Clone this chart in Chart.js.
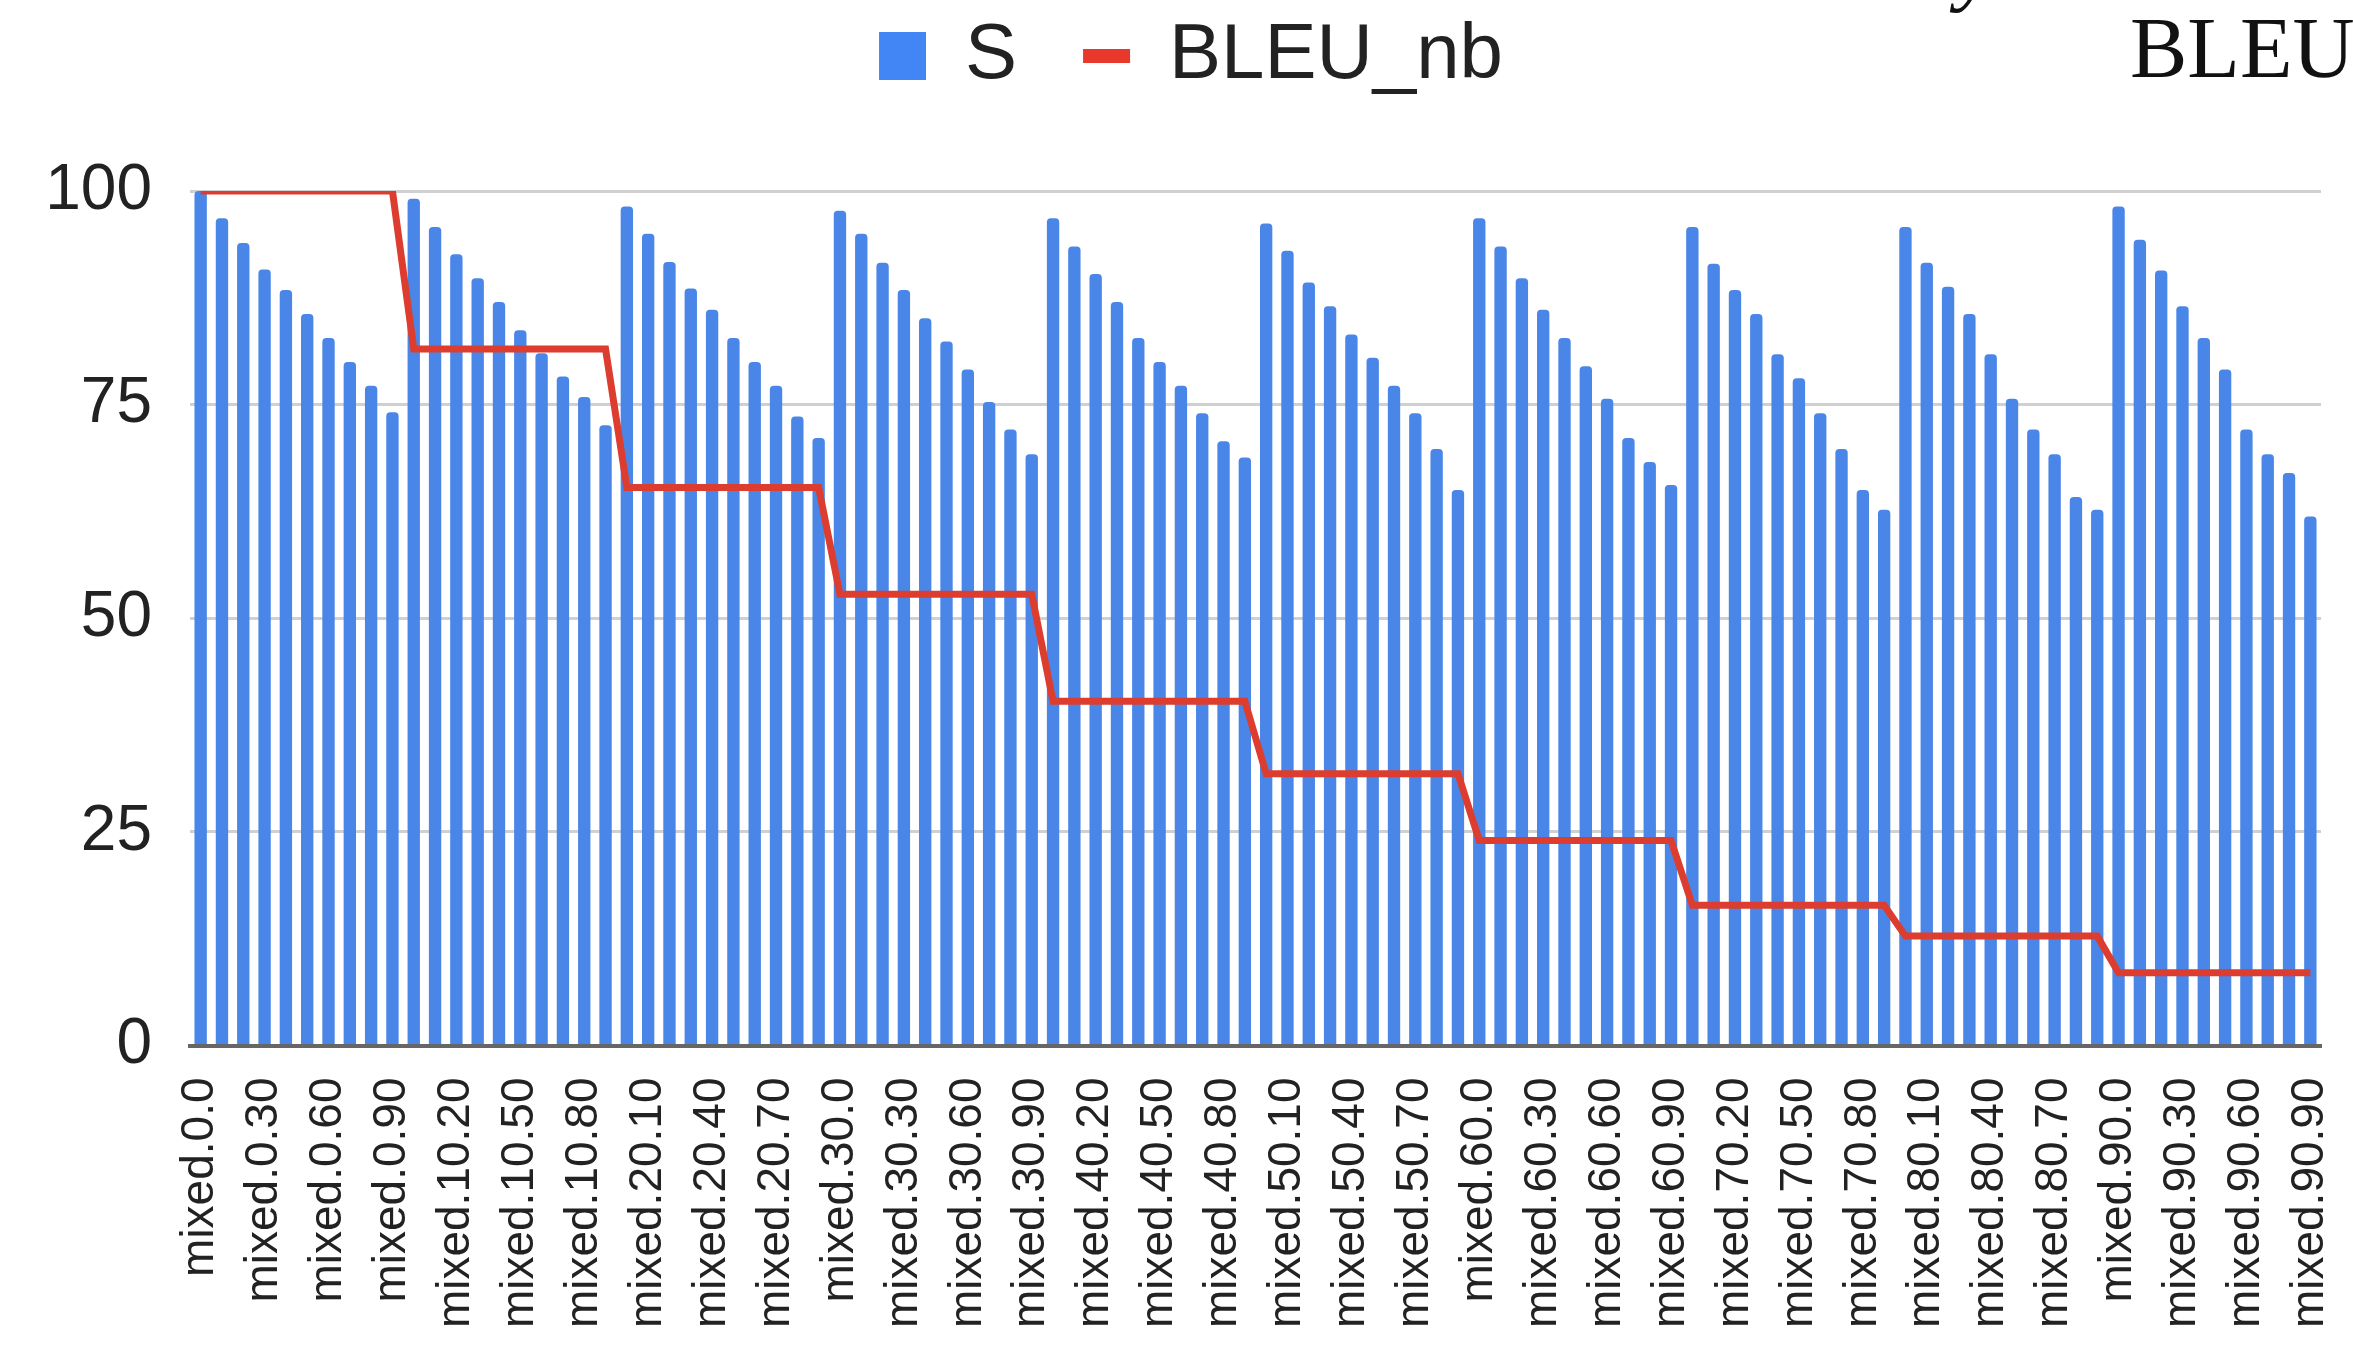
<!DOCTYPE html>
<html>
<head>
<meta charset="utf-8">
<script src="https://cdn.jsdelivr.net/npm/chart.js@4.4.1/dist/chart.umd.min.js"></script>
<style>
    html, body { margin: 0; padding: 0; background: #fff; overflow: hidden; }
    #wrap { position: relative; width: 2353px; height: 1349px; overflow: hidden; }
    #chart { position: absolute; left: 0; top: 0; }
    .paper { position: absolute; font-family: "Liberation Serif", "Times New Roman", serif; font-size: 86px; line-height: 86px; color: #111; white-space: nowrap; }
</style>
</head>
<body>
<div id="wrap">
    <canvas id="chart" width="2353" height="1349"></canvas>
    <span class="paper" style="left: 1957px; top: -78px; font-style: italic;">y</span>
    <span class="paper" style="left: 2040px; top: -84px; transform: scaleX(1.3); transform-origin: left;">_</span>
    <span class="paper" style="left: 2130px; top: 5px;">BLEU</span>
</div>
<script>
// first and second part of each run name: mixed.<a>.<b>
const firstParts = [0, 10, 20, 30, 40, 50, 60, 70, 80, 90];
const secondParts = [0, 10, 20, 30, 40, 50, 60, 70, 80, 90];
const categories = firstParts.flatMap(a => secondParts.map(b => `mixed.${a}.${b}`));

// S per run
const sValues = [
    100.0, 96.8, 93.9, 90.8, 88.4, 85.6, 82.8, 80.0, 77.2, 74.1,
    99.1, 95.8, 92.6, 89.8, 87.0, 83.7, 81.0, 78.3, 75.9, 72.6,
    98.2, 95.0, 91.7, 88.6, 86.1, 82.8, 80.0, 77.2, 73.6, 71.1,
    97.7, 95.0, 91.6, 88.4, 85.1, 82.4, 79.1, 75.3, 72.1, 69.2,
    96.8, 93.5, 90.3, 87.0, 82.8, 80.0, 77.2, 74.0, 70.7, 68.8,
    96.2, 93.0, 89.3, 86.5, 83.2, 80.5, 77.2, 74.0, 69.8, 65.0,
    96.8, 93.5, 89.8, 86.1, 82.8, 79.5, 75.7, 71.1, 68.3, 65.6,
    95.8, 91.5, 88.4, 85.6, 80.9, 78.1, 74.0, 69.8, 65.0, 62.7,
    95.8, 91.6, 88.8, 85.6, 80.9, 75.7, 72.1, 69.2, 64.2, 62.7,
    98.2, 94.3, 90.7, 86.5, 82.8, 79.1, 72.1, 69.2, 67.0, 61.9
];

// BLEU_nb per run
const bleuNb = [
    100, 100, 100, 100, 100, 100, 100, 100, 100, 100,
    81.5, 81.5, 81.5, 81.5, 81.5, 81.5, 81.5, 81.5, 81.5, 81.5,
    65.3, 65.3, 65.3, 65.3, 65.3, 65.3, 65.3, 65.3, 65.3, 65.3,
    52.8, 52.8, 52.8, 52.8, 52.8, 52.8, 52.8, 52.8, 52.8, 52.8,
    40.3, 40.3, 40.3, 40.3, 40.3, 40.3, 40.3, 40.3, 40.3, 40.3,
    31.8, 31.8, 31.8, 31.8, 31.8, 31.8, 31.8, 31.8, 31.8, 31.8,
    24.0, 24.0, 24.0, 24.0, 24.0, 24.0, 24.0, 24.0, 24.0, 24.0,
    16.4, 16.4, 16.4, 16.4, 16.4, 16.4, 16.4, 16.4, 16.4, 16.4,
    12.8, 12.8, 12.8, 12.8, 12.8, 12.8, 12.8, 12.8, 12.8, 12.8,
    8.5, 8.5, 8.5, 8.5, 8.5, 8.5, 8.5, 8.5, 8.5, 8.5
];

const yTicks = [0, 25, 50, 75, 100];
const labelEvery = 3;

const FONT = 'Arial, "Liberation Sans", Helvetica, sans-serif';
const BLUE = '#4a86e8';
const RED = '#dc3d2e';

// extra room under the legend, and nudge it a little to the right
const legendSpacer = {
    id: 'legendSpacer',
    beforeInit(chart) {
        const fit = chart.legend.fit;
        chart.legend.fit = function () {
            fit.call(this);
            this.height += 86;
            this.lineWidths = this.lineWidths.map(w => w - 61);
        };
    }
};

const ctx = document.getElementById('chart').getContext('2d');

new Chart(ctx, {
    data: {
        labels: categories,
        datasets: [
            {
                type: 'bar',
                label: 'S',
                data: sValues,
                backgroundColor: BLUE,
                legendColor: '#4285f4',
                barPercentage: 0.58,
                categoryPercentage: 1,
                borderRadius: 4,
                borderSkipped: 'start',
                order: 1
            },
            {
                type: 'line',
                label: 'BLEU_nb',
                data: bleuNb,
                borderColor: RED,
                legendColor: '#e8372b',
                borderWidth: 7,
                pointRadius: 0,
                tension: 0,
                fill: false,
                clip: 0,
                order: 0
            }
        ]
    },
    options: {
        responsive: false,
        animation: false,
        layout: { padding: { top: -49, left: 0, right: 32, bottom: 0 } },
        plugins: {
            tooltip: { enabled: false },
            legend: {
                position: 'top',
                labels: {
                    usePointStyle: true,
                    pointStyleWidth: 47,
                    boxHeight: 48,
                    padding: 66,
                    color: '#222',
                    font: { family: FONT, size: 78 },
                    generateLabels: chart => chart.data.datasets.map((ds, i) => ({
                        text: ds.label,
                        fillStyle: ds.legendColor,
                        strokeStyle: ds.legendColor,
                        lineWidth: ds.type === 'line' ? 14 : 0,
                        pointStyle: ds.type === 'line' ? 'line' : 'rect',
                        fontColor: '#222',
                        hidden: false,
                        datasetIndex: i
                    }))
                }
            }
        },
        scales: {
            x: {
                grid: { display: false, drawTicks: false },
                border: { display: true, color: '#666', width: 4 },
                ticks: {
                    autoSkip: false,
                    minRotation: 90,
                    maxRotation: 90,
                    padding: 32,
                    color: '#222',
                    font: { family: FONT, size: 46 },
                    callback: function (value, index) {
                        return index % labelEvery === 0 ? this.getLabelForValue(value) : '';
                    }
                },
                afterFit: scale => {
                    scale.height = 303.5;
                    scale.paddingLeft = 0;
                    scale.paddingRight = 0;
                }
            },
            y: {
                min: yTicks[0],
                max: yTicks[yTicks.length - 1],
                grid: { color: '#d0d0d0', lineWidth: 3, drawTicks: false },
                border: { display: false },
                afterBuildTicks: scale => { scale.ticks = yTicks.map(v => ({ value: v })); },
                ticks: {
                    padding: 38,
                    color: '#222',
                    font: { family: FONT, size: 64 }
                },
                afterFit: scale => {
                    scale.width = 190;
                    scale.paddingTop = 0;
                    scale.paddingBottom = 0;
                }
            }
        }
    },
    plugins: [legendSpacer]
});
</script>
</body>
</html>
